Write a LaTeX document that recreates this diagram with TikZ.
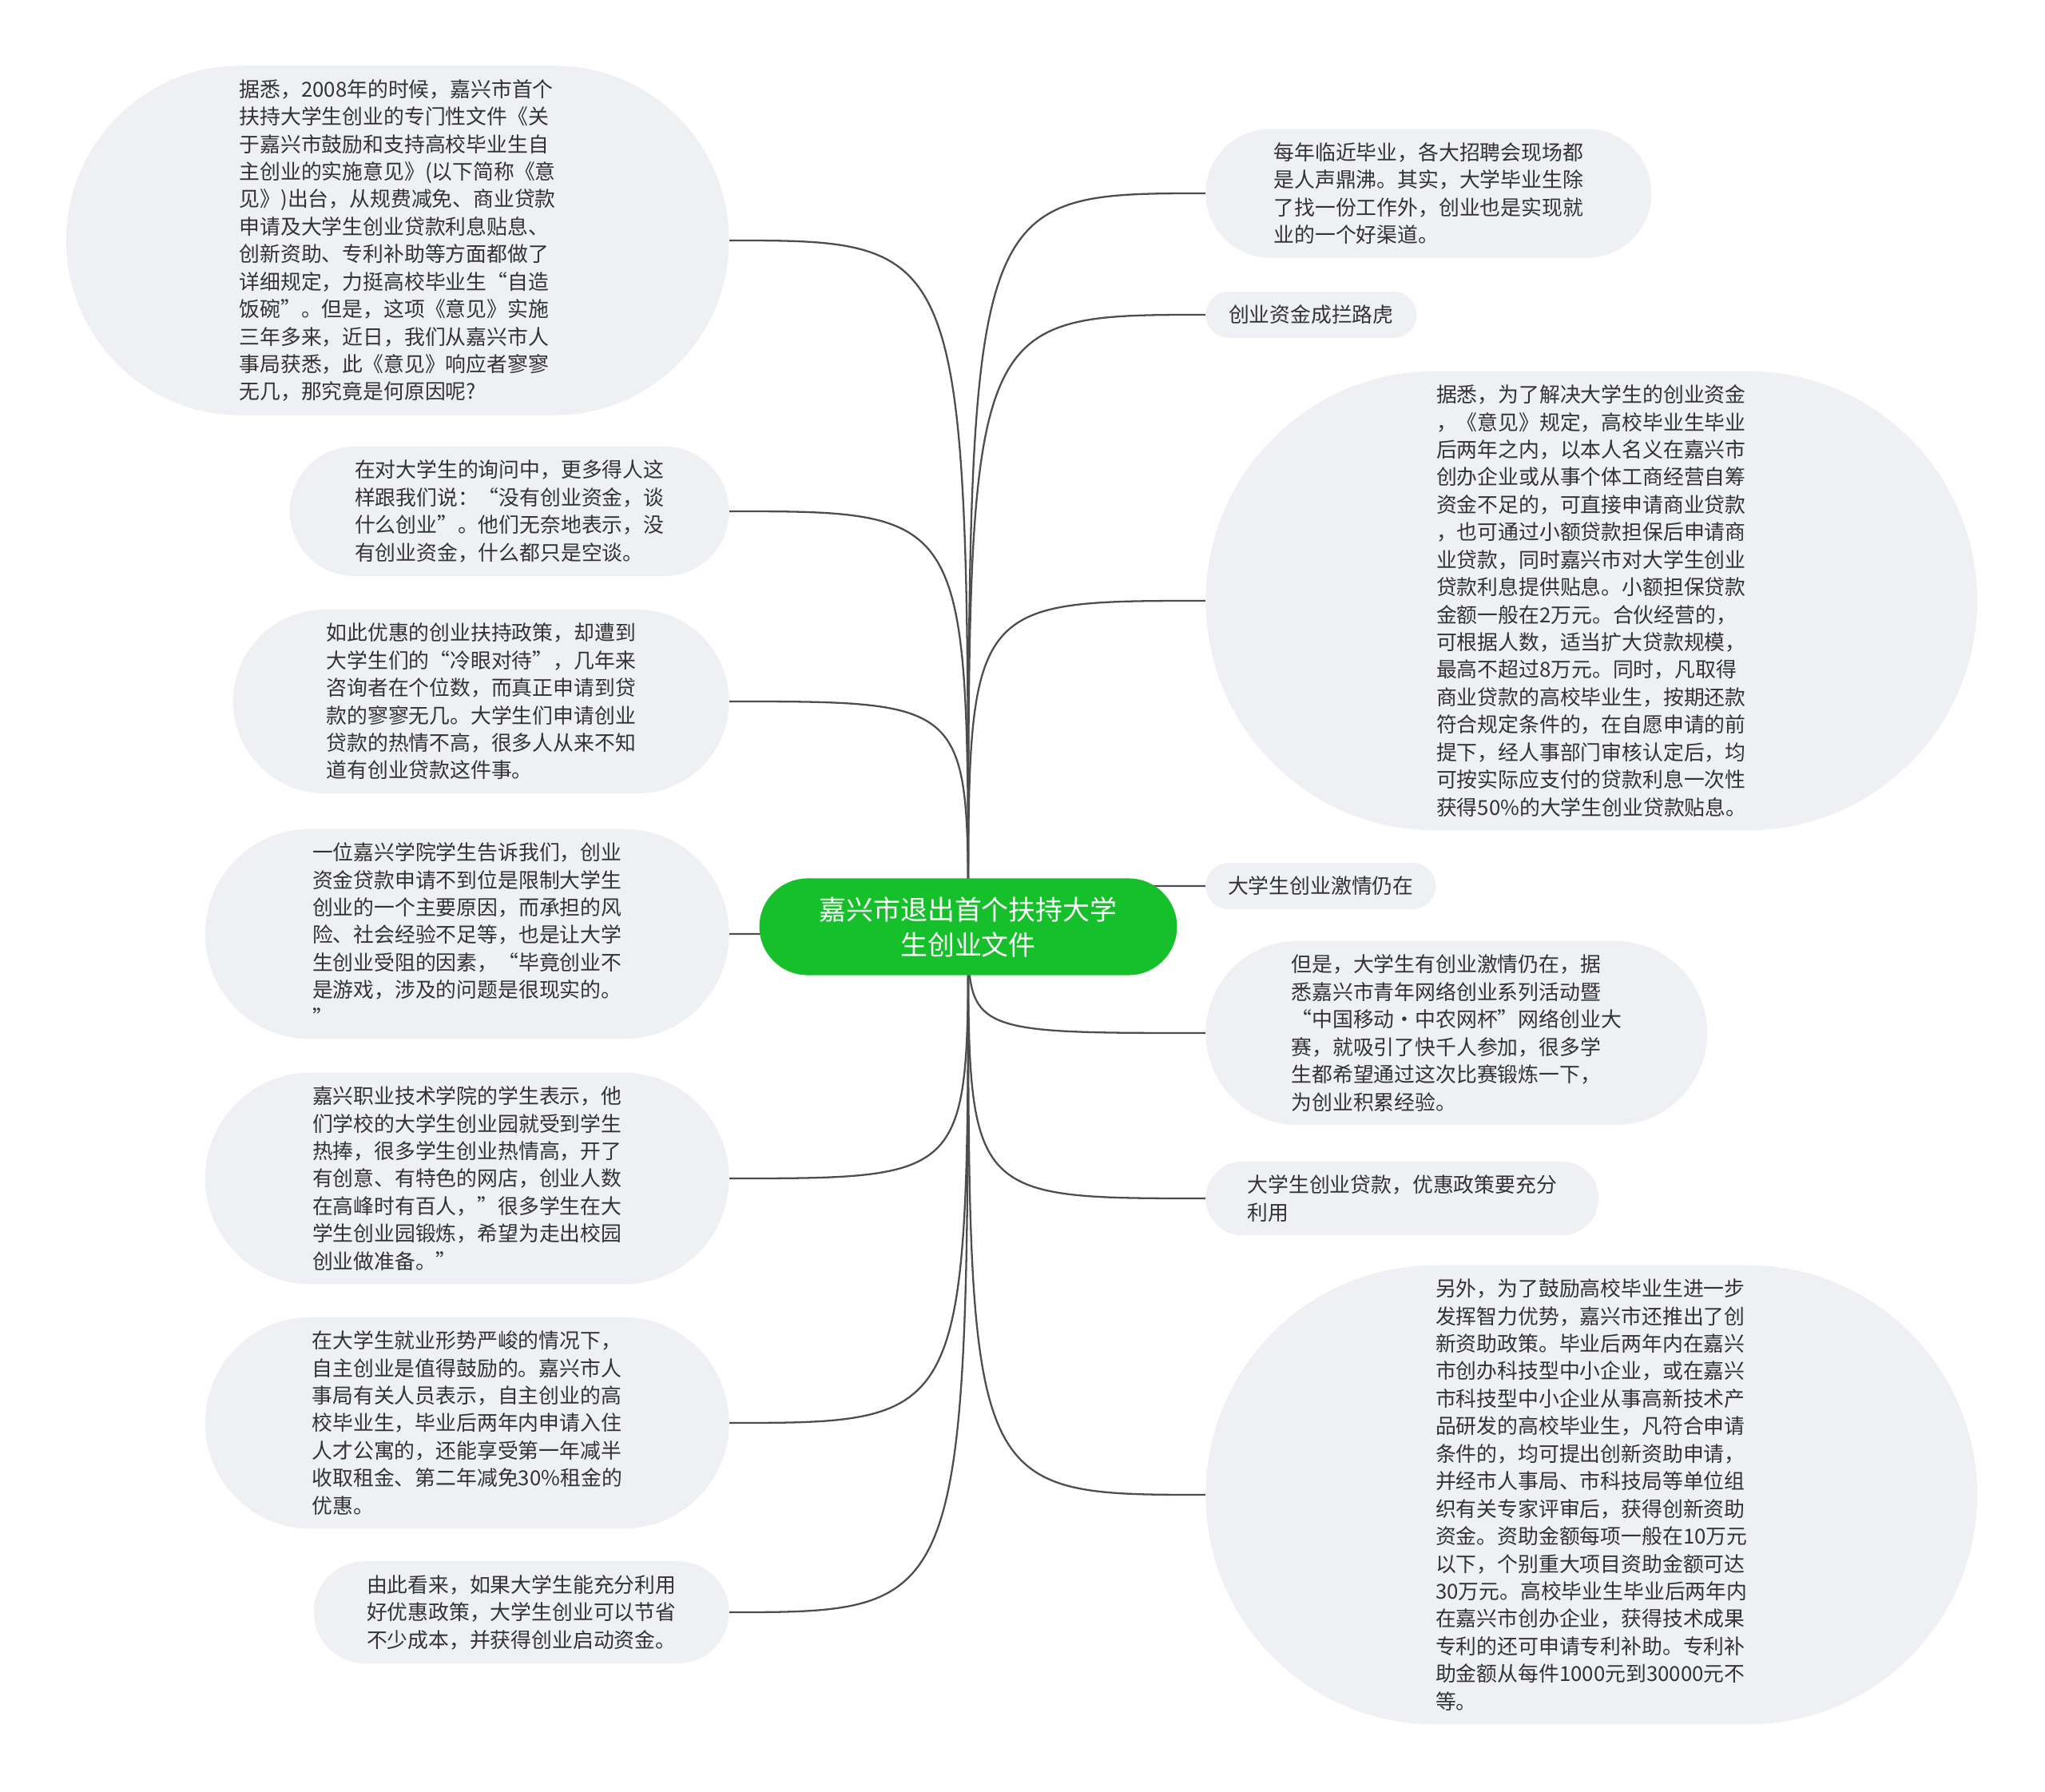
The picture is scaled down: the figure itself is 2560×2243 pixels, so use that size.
\documentclass[tikz,border=0pt]{standalone}
\usepackage{fontspec}
\setmainfont{Noto Sans CJK SC}
\usetikzlibrary{positioning, shapes.misc, backgrounds}
\definecolor{rootgreen}{HTML}{16C02B}
\definecolor{bubblegray}{HTML}{EEF0F3}
\definecolor{inkgray}{HTML}{333333}
\definecolor{wiregray}{HTML}{4D4D4D}

\begin{document}
\begin{tikzpicture}[x=0.02cm, y=-0.02cm,
    leaf/.style={rounded rectangle, fill=bubblegray, text=inkgray, align=left, inner xsep=2pt, inner ysep=9.7pt, font=\fontsize{14.7pt}{19.6pt}\selectfont},
    hub/.style={rounded rectangle, fill=rootgreen, text=white, align=center, inner xsep=7pt, inner ysep=13pt, font=\fontsize{19.3pt}{25pt}\selectfont},
    link/.style={draw=wiregray, line width=1.3pt}]
    \useasboundingbox (0,0) rectangle (2560,2243);

    \node[hub, minimum width=10.95cm] (root) at (1212,1160) {嘉兴市退出首个扶持大学\\生创业文件};

    % left column
    \node[leaf, minimum width=16.74cm, anchor=east] (L1) at (913,301) {据悉，2008年的时候，嘉兴市首个\\扶持大学生创业的专门性文件《关\\于嘉兴市鼓励和支持高校毕业生自\\主创业的实施意见》(以下简称《意\\见》)出台，从规费减免、商业贷款\\申请及大学生创业贷款利息贴息、\\创新资助、专利补助等方面都做了\\详细规定，力挺高校毕业生“自造\\饭碗”。但是，这项《意见》实施\\三年多来，近日，我们从嘉兴市人\\事局获悉，此《意见》响应者寥寥\\无几，那究竟是何原因呢?};
    \node[leaf, minimum width=11.14cm, anchor=east] (L2) at (913,640) {在对大学生的询问中，更多得人这\\样跟我们说：“没有创业资金，谈\\什么创业”。他们无奈地表示，没\\有创业资金，什么都只是空谈。};
    \node[leaf, minimum width=12.56cm, anchor=east] (L3) at (913,878) {如此优惠的创业扶持政策，却遭到\\大学生们的“冷眼对待”，几年来\\咨询者在个位数，而真正申请到贷\\款的寥寥无几。大学生们申请创业\\贷款的热情不高，很多人从来不知\\道有创业贷款这件事。};
    \node[leaf, minimum width=13.26cm, anchor=east] (L4) at (913,1169) {一位嘉兴学院学生告诉我们，创业\\资金贷款申请不到位是限制大学生\\创业的一个主要原因，而承担的风\\险、社会经验不足等，也是让大学\\生创业受阻的因素，“毕竟创业不\\是游戏，涉及的问题是很现实的。\\”};
    \node[leaf, minimum width=13.26cm, anchor=east] (L5) at (913,1475) {嘉兴职业技术学院的学生表示，他\\们学校的大学生创业园就受到学生\\热捧，很多学生创业热情高，开了\\有创意、有特色的网店，创业人数\\在高峰时有百人，”很多学生在大\\学生创业园锻炼，希望为走出校园\\创业做准备。”};
    \node[leaf, minimum width=13.26cm, anchor=east] (L6) at (913,1781) {在大学生就业形势严峻的情况下，\\自主创业是值得鼓励的。嘉兴市人\\事局有关人员表示，自主创业的高\\校毕业生，毕业后两年内申请入住\\人才公寓的，还能享受第一年减半\\收取租金、第二年减免30\%租金的\\优惠。};
    \node[leaf, minimum width=10.54cm, anchor=east] (L7) at (913,2018) {由此看来，如果大学生能充分利用\\好优惠政策，大学生创业可以节省\\不少成本，并获得创业启动资金。};

    % right column
    \node[leaf, minimum width=11.3cm, anchor=west] (R1) at (1509,242) {每年临近毕业，各大招聘会现场都\\是人声鼎沸。其实，大学毕业生除\\了找一份工作外，创业也是实现就\\业的一个好渠道。};
    \node[leaf, minimum width=5.42cm, anchor=west] (R2) at (1509,394) {创业资金成拦路虎};
    \node[leaf, minimum width=19.46cm, anchor=west] (R3) at (1509,752) {据悉，为了解决大学生的创业资金\\，《意见》规定，高校毕业生毕业\\后两年之内，以本人名义在嘉兴市\\创办企业或从事个体工商经营自筹\\资金不足的，可直接申请商业贷款\\，也可通过小额贷款担保后申请商\\业贷款，同时嘉兴市对大学生创业\\贷款利息提供贴息。小额担保贷款\\金额一般在2万元。合伙经营的，\\可根据人数，适当扩大贷款规模，\\最高不超过8万元。同时，凡取得\\商业贷款的高校毕业生，按期还款\\符合规定条件的，在自愿申请的前\\提下，经人事部门审核认定后，均\\可按实际应支付的贷款利息一次性\\获得50\%的大学生创业贷款贴息。};
    \node[leaf, minimum width=5.9cm, anchor=west] (R4) at (1509,1109) {大学生创业激情仍在};
    \node[leaf, minimum width=12.7cm, anchor=west] (R5) at (1509,1293) {但是，大学生有创业激情仍在，据\\悉嘉兴市青年网络创业系列活动暨\\“中国移动·中农网杯”网络创业大\\赛，就吸引了快千人参加，很多学\\生都希望通过这次比赛锻炼一下，\\为创业积累经验。};
    \node[leaf, minimum width=9.98cm, anchor=west] (R6) at (1509,1500) {大学生创业贷款，优惠政策要充分\\利用};
    \node[leaf, minimum width=19.46cm, anchor=west] (R7) at (1509,1871) {另外，为了鼓励高校毕业生进一步\\发挥智力优势，嘉兴市还推出了创\\新资助政策。毕业后两年内在嘉兴\\市创办科技型中小企业，或在嘉兴\\市科技型中小企业从事高新技术产\\品研发的高校毕业生，凡符合申请\\条件的，均可提出创新资助申请，\\并经市人事局、市科技局等单位组\\织有关专家评审后，获得创新资助\\资金。资助金额每项一般在10万元\\以下，个别重大项目资助金额可达\\30万元。高校毕业生毕业后两年内\\在嘉兴市创办企业，获得技术成果\\专利的还可申请专利补助。专利补\\助金额从每件1000元到30000元不\\等。};

    \begin{scope}[on background layer]
        \fill[white] (0,0) rectangle (2560,2243);
        \foreach \leaf in {L1,L2,L3,L4,L5,L6,L7}
            \draw[link] (root.center) .. controls (root.center |- \leaf.east) .. (\leaf.east);
        \foreach \leaf in {R1,R2,R3,R4,R5,R6,R7}
            \draw[link] (root.center) .. controls (root.center |- \leaf.west) .. (\leaf.west);
    \end{scope}
\end{tikzpicture}
\end{document}
